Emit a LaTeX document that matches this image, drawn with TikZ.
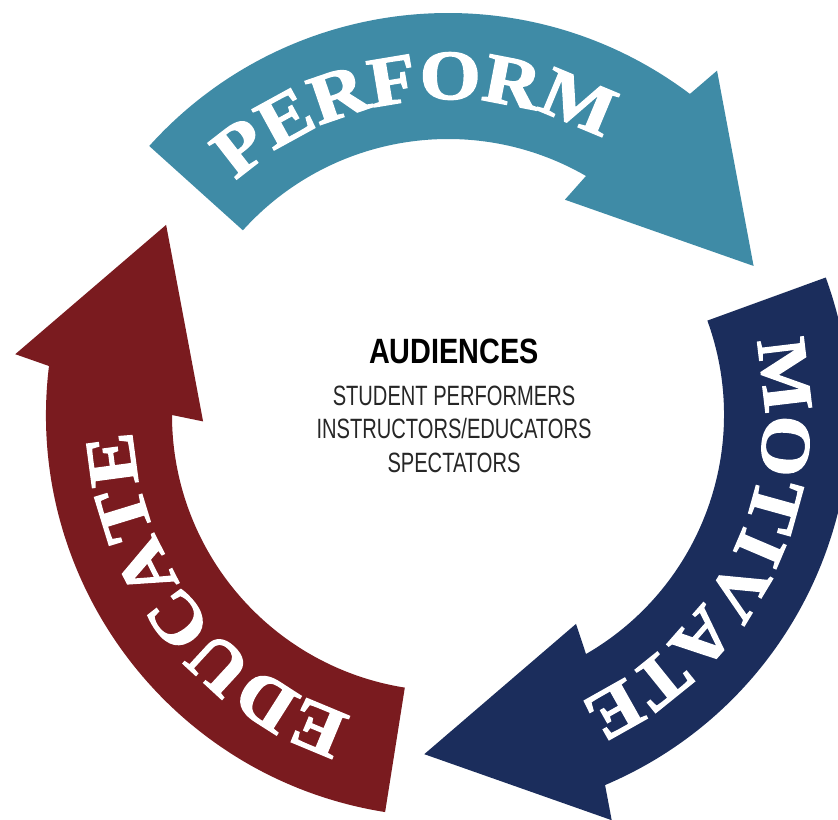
\documentclass[tikz,border=0pt]{standalone}
\usepackage{fontspec}
\newfontfamily\slabfamily{Liberation Serif}[FakeStretch=1.12, FakeBold=2]
\newfontfamily\headfamily{Liberation Sans}[FakeStretch=0.82]
\newfontfamily\listfamily{Liberation Sans}[FakeStretch=0.72]
\definecolor{colorperf}{HTML}{3F8BA6}
\definecolor{colormot}{HTML}{1B2D5C}
\definecolor{coloredu}{HTML}{7A1B1F}
\newcommand\letterfont{\slabfamily\bfseries\fontsize{40}{40}\selectfont}
\tikzset{
  slabletter/.style={inner sep=0pt, text=white, font=\letterfont},
  audhead/.style={anchor=base, inner sep=0pt, font=\headfamily\bfseries\fontsize{20}{20}\selectfont},
  audline/.style={anchor=base, inner sep=0pt, font=\listfamily\fontsize{15.9}{16}\selectfont, text=black!85}
}
% #1 colour, #2 tail angle, #3 angle where the head starts
\newcommand\cyclearrow[3]{%
  \fill[#1] (#2:402) arc[start angle=#2, end angle=#3-7, radius=402]
    -- (#3-8:437) -- (#3-34:340) -- (#3+1.5:245) -- (#3:276)
    arc[start angle=#3, end angle=#2, radius=276] -- cycle;}
% #1 name, #2 centre angle, #3 letters
\newcommand\cyclelabel[3]{%
  \begingroup\letterfont
  \gdef\lettot{0}%
  \foreach \l in {#3} {%
    \pgfmathwidth{"\l"}%
    \pgfmathparse{\lettot+\pgfmathresult+2}%
    \xdef\lettot{\pgfmathresult}}%
  \gdef\letpos{0}%
  \foreach \l [count=\i] in {#3} {%
    \pgfmathwidth{"\l"}\let\w\pgfmathresult
    \pgfmathsetmacro\a{#2+(\lettot/2-1-\letpos-\w/2)*0.2971}%
    \node[slabletter, rotate=\a-90] (#1-\i) at (\a:339) {\l};
    \pgfmathparse{\letpos+\w+2}%
    \xdef\letpos{\pgfmathresult}}%
  \endgroup}

\begin{document}
\begin{tikzpicture}[x=0.02cm, y=0.02cm]
\useasboundingbox (-448,-404) rectangle (390,415);

\cyclearrow{colorperf}{138}{60}
\cyclearrow{colormot}{20}{-60}
\cyclearrow{coloredu}{261}{180}

\cyclelabel{perf}{96.5}{P,E,R,F,O,R,M}
\cyclelabel{mot}{-26}{M,O,T,I,V,A,T,E}
\cyclelabel{edu}{217.5}{E,D,U,C,A,T,E}

\node[audhead] (aud) at (6,52) {AUDIENCES};
\node[audline] (stud) at (6,10) {STUDENT PERFORMERS};
\node[audline] (instr) at (6,-23) {INSTRUCTORS/EDUCATORS};
\node[audline] (spec) at (6,-57) {SPECTATORS};
\end{tikzpicture}
\end{document}
